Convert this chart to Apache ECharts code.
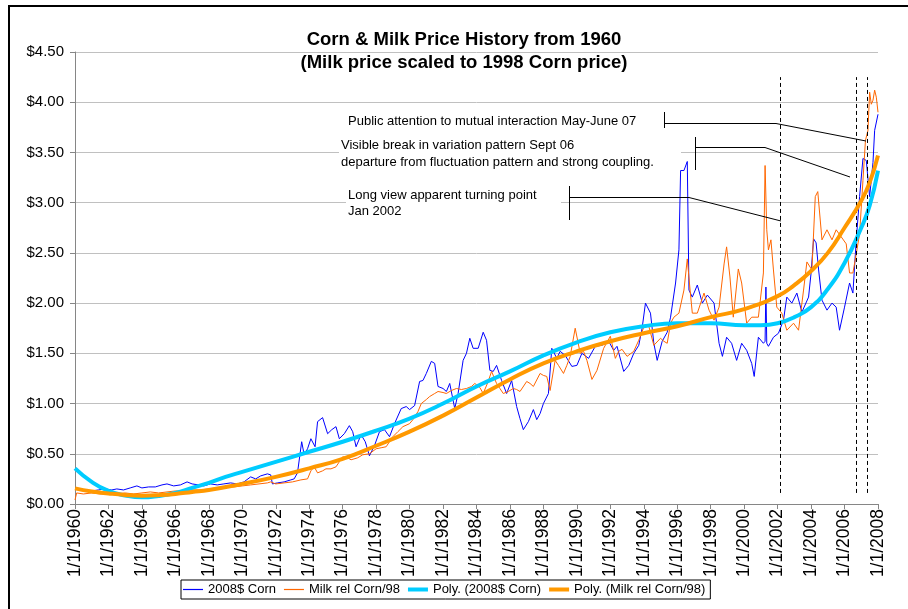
<!DOCTYPE html>
<html><head><meta charset="utf-8">
<script src="https://cdn.jsdelivr.net/npm/echarts@6/dist/echarts.min.js"></script>
<style>html,body{margin:0;padding:0;background:#fff}#c{width:908px;height:609px}</style>
</head><body><div id="c"></div>
<script>
// ---- Data (years as decimal years, values in $) ----
const cornYears = [1960.0,1960.3,1960.6,1961.0,1961.4,1961.8,1962.2,1962.5,1962.9,1963.3,1963.7,1964.0,1964.4,1964.8,1965.2,1965.5,1965.9,1966.3,1966.7,1967.0,1967.4,1967.7,1968.1,1968.5,1968.9,1969.3,1969.7,1970.1,1970.5,1970.8,1971.1,1971.5,1971.7,1971.8,1972.1,1972.5,1972.9,1973.1,1973.3,1973.55,1973.7,1973.9,1974.1,1974.35,1974.5,1974.8,1975.1,1975.35,1975.6,1975.8,1976.1,1976.4,1976.6,1976.8,1977.1,1977.35,1977.6,1977.9,1978.2,1978.5,1978.8,1979.1,1979.5,1979.8,1980.0,1980.3,1980.6,1980.8,1981.0,1981.3,1981.5,1981.7,1982.0,1982.2,1982.4,1982.7,1982.9,1983.2,1983.4,1983.6,1983.8,1984.1,1984.4,1984.6,1984.8,1985.0,1985.2,1985.5,1985.8,1986.1,1986.4,1986.6,1986.8,1987.1,1987.4,1987.6,1987.8,1988.0,1988.3,1988.5,1988.8,1989.0,1989.3,1989.7,1990.0,1990.3,1990.7,1991.1,1991.5,1991.9,1992.2,1992.4,1992.8,1993.1,1993.4,1993.7,1993.9,1994.1,1994.4,1994.6,1994.8,1995.1,1995.4,1995.6,1995.9,1996.1,1996.2,1996.4,1996.6,1996.7,1996.9,1997.2,1997.5,1997.8,1998.2,1998.5,1998.7,1998.95,1999.25,1999.55,1999.85,2000.15,2000.45,2000.6,2000.85,2001.15,2001.25,2001.3,2001.35,2001.45,2001.75,2002.05,2002.35,2002.55,2002.85,2003.15,2003.45,2003.85,2004.0,2004.15,2004.3,2004.45,2004.65,2004.95,2005.25,2005.5,2005.7,2006.0,2006.3,2006.5,2006.7,2006.9,2007.1,2007.3,2007.5,2007.7,2007.8,2008.0];
const cornValues = [0.16,0.15,0.14,0.13,0.14,0.15,0.14,0.15,0.14,0.16,0.18,0.16,0.17,0.17,0.19,0.20,0.18,0.19,0.22,0.20,0.19,0.18,0.20,0.19,0.20,0.21,0.20,0.22,0.27,0.25,0.28,0.30,0.29,0.20,0.21,0.22,0.24,0.25,0.31,0.62,0.49,0.55,0.65,0.57,0.82,0.86,0.70,0.74,0.77,0.65,0.70,0.78,0.72,0.57,0.69,0.62,0.48,0.58,0.72,0.74,0.67,0.80,0.95,0.97,0.94,0.98,1.22,1.23,1.30,1.42,1.40,1.17,1.15,1.12,1.20,0.95,1.10,1.43,1.50,1.65,1.55,1.55,1.71,1.63,1.33,1.32,1.38,1.23,1.10,1.23,0.97,0.85,0.74,0.82,0.94,0.84,0.90,1.00,1.10,1.55,1.45,1.52,1.48,1.37,1.38,1.50,1.45,1.57,1.58,1.62,1.53,1.57,1.32,1.38,1.50,1.58,1.75,2.00,1.90,1.60,1.43,1.62,1.71,1.86,2.20,2.53,3.32,3.32,3.41,2.13,2.06,2.18,2.00,2.08,2.00,1.60,1.47,1.66,1.60,1.43,1.60,1.53,1.40,1.27,1.66,1.60,1.62,2.16,1.60,1.57,1.66,1.70,1.83,2.06,2.00,2.10,1.91,2.06,2.30,2.64,2.60,2.33,2.03,1.93,2.00,1.96,1.73,1.96,2.20,2.10,2.63,3.06,3.44,3.42,3.06,3.40,3.72,3.88];

const milkYears = [1960.0,1960.1,1960.5,1961.0,1961.5,1962.0,1962.5,1963.0,1963.5,1964.0,1964.5,1965.0,1965.5,1966.0,1966.5,1967.0,1967.5,1968.0,1968.5,1969.0,1969.5,1970.0,1970.5,1971.0,1971.5,1971.7,1972.0,1972.5,1973.0,1973.5,1973.9,1974.1,1974.3,1974.5,1974.8,1975.0,1975.3,1975.6,1975.8,1976.0,1976.3,1976.5,1976.9,1977.2,1977.6,1978.0,1978.3,1978.6,1979.0,1979.3,1979.6,1980.0,1980.2,1980.5,1980.7,1981.0,1981.2,1981.5,1981.7,1982.0,1982.2,1982.5,1982.8,1983.1,1983.4,1983.7,1983.9,1984.2,1984.4,1984.7,1984.9,1985.2,1985.4,1985.6,1985.9,1986.2,1986.4,1986.6,1987.0,1987.2,1987.4,1987.8,1988.0,1988.2,1988.4,1988.7,1988.9,1989.2,1989.4,1989.6,1989.9,1990.2,1990.4,1990.6,1990.9,1991.2,1991.6,1992.0,1992.3,1992.5,1992.7,1993.0,1993.4,1993.7,1994.0,1994.3,1994.6,1995.0,1995.2,1995.4,1995.6,1995.8,1996.1,1996.4,1996.6,1996.75,1996.9,1997.2,1997.6,1997.9,1998.2,1998.5,1998.8,1998.95,1999.15,1999.35,1999.65,1999.85,2000.15,2000.45,2000.85,2001.15,2001.25,2001.35,2001.45,2001.6,2001.75,2001.95,2002.25,2002.55,2002.95,2003.25,2003.55,2003.75,2004.05,2004.25,2004.4,2004.65,2004.95,2005.25,2005.5,2005.8,2006.1,2006.3,2006.5,2006.7,2006.9,2007.1,2007.25,2007.4,2007.5,2007.6,2007.7,2007.8,2007.9,2008.0];
const milkValues = [0.04,0.11,0.10,0.11,0.10,0.10,0.10,0.11,0.10,0.11,0.12,0.11,0.12,0.13,0.13,0.14,0.14,0.15,0.16,0.17,0.17,0.18,0.19,0.20,0.21,0.22,0.20,0.21,0.22,0.24,0.25,0.33,0.37,0.31,0.33,0.35,0.35,0.37,0.42,0.47,0.46,0.44,0.46,0.49,0.50,0.55,0.56,0.57,0.67,0.72,0.77,0.80,0.84,0.92,1.00,1.04,1.07,1.10,1.12,1.11,1.10,1.13,1.15,1.14,1.15,1.17,1.20,1.16,1.10,1.22,1.32,1.20,1.15,1.10,1.12,1.15,1.14,1.12,1.22,1.20,1.17,1.30,1.28,1.27,1.13,1.43,1.38,1.30,1.38,1.47,1.75,1.50,1.52,1.43,1.24,1.33,1.55,1.67,1.45,1.52,1.54,1.47,1.52,1.63,1.76,1.77,1.58,1.65,1.62,1.60,1.80,1.86,1.90,2.13,2.44,2.16,1.90,1.90,2.10,1.93,1.83,1.96,2.39,2.56,2.26,1.86,2.34,2.20,1.80,1.86,1.86,2.30,3.37,2.73,2.53,2.63,2.33,1.96,1.90,1.73,1.80,1.73,2.13,2.41,2.33,3.06,3.11,2.63,2.73,2.63,2.73,2.66,2.59,2.30,2.30,2.49,2.69,3.22,3.62,3.72,4.10,3.98,4.02,4.12,4.05,3.90];

const cornTrendYears = [1960,1961,1962,1963,1964,1965,1966,1967,1968,1969,1970,1972,1974,1976,1978,1980,1982,1984,1986,1988,1990,1992,1994,1996,1998,2000,2001,2002,2003,2004,2005,2006,2007,2007.5,2008];
const cornTrendValues = [0.355,0.22,0.13,0.085,0.066,0.08,0.11,0.16,0.21,0.27,0.32,0.42,0.52,0.62,0.73,0.85,1.00,1.17,1.32,1.48,1.61,1.71,1.77,1.80,1.80,1.78,1.78,1.80,1.86,1.96,2.14,2.40,2.75,2.97,3.32];

const milkTrendYears = [1960,1961,1962,1963,1964,1965,1966,1967,1968,1970,1972,1974,1976,1978,1980,1982,1984,1986,1988,1990,1992,1994,1996,1998,2000,2002,2003,2004,2005,2006,2007,2007.5,2008];
const milkTrendValues = [0.156,0.125,0.105,0.09,0.083,0.088,0.10,0.12,0.14,0.20,0.27,0.355,0.45,0.58,0.72,0.88,1.06,1.24,1.40,1.52,1.62,1.70,1.77,1.86,1.94,2.07,2.18,2.32,2.50,2.75,3.02,3.20,3.47];

const markerYears = [2002.14, 2006.67, 2007.36];
const seriesNames = ['2008$ Corn','Milk rel Corn/98','Poly. (2008$ Corn)','Poly. (Milk rel Corn/98)'];
const seriesColors = ['#0000ff', '#ff6600', '#00ccff', '#ff9900'];
const titleLines = ['Corn & Milk Price History from 1960','(Milk price scaled to 1998 Corn price)'];

// ---- Chart ----
const FONT = '"Liberation Sans", Arial, sans-serif';
const zip = (xs, ys) => xs.map((x, i) => [x, ys[i]]);
const chart = echarts.init(document.getElementById('c'), null, {renderer: 'canvas'});

const THIN_ICON = 'path://M0,0h20v1.2h-20z';
const THICK_ICON = 'path://M0,0h20v4h-20z';
const blk = {stroke: '#000', lineWidth: 1, fill: null};
const legendItem = (i, icon) => ({name: seriesNames[i], icon: icon,
  itemStyle: {color: seriesColors[i], borderWidth: 0, borderColor: seriesColors[i], opacity: 1}});
const option = {
  backgroundColor: '#fff',
  animation: false,
  title: {
    text: titleLines.join('\n'),
    left: 464, top: 28, textAlign: 'center', padding: 0,
    textStyle: {fontFamily: FONT, fontSize: 18.5, fontWeight: 'bold', color: '#000', lineHeight: 23}
  },
  grid: {left: 75, top: 52, width: 803, height: 452, containLabel: false},
  legend: {
    data: [legendItem(0, THIN_ICON), legendItem(1, THIN_ICON), legendItem(2, THICK_ICON), legendItem(3, THICK_ICON)],
    left: 181, top: 580,
    itemWidth: 20, itemHeight: 4, itemGap: 8, symbolKeepAspect: true,
    itemStyle: {borderWidth: 0},
    padding: [3, 5, 3, 2],
    borderColor: '#000', borderWidth: 1, backgroundColor: '#fff',
    textStyle: {fontFamily: FONT, fontSize: 13, color: '#000'}
  },
  xAxis: {
    type: 'value', min: 1960, max: 2008, interval: 2,
    axisLine: {lineStyle: {color: '#868686'}},
    axisTick: {length: 5, lineStyle: {color: '#868686'}},
    splitLine: {show: false},
    axisLabel: {rotate: 90, margin: 5, fontFamily: FONT, fontSize: 17.5, color: '#000',
      formatter: v => '1/1/' + v}
  },
  yAxis: {
    type: 'value', min: 0, max: 4.5, interval: 0.5,
    axisLine: {show: true, lineStyle: {color: '#868686'}},
    axisTick: {show: true, length: 5, lineStyle: {color: '#868686'}},
    splitLine: {lineStyle: {color: '#c0c0c0', width: 1}},
    axisLabel: {margin: 11, fontFamily: FONT, fontSize: 15, color: '#000',
      formatter: v => '$' + v.toFixed(2)}
  },
  series: [
    {name: seriesNames[0], type: 'line', data: zip(cornYears, cornValues), symbol: 'none',
     lineStyle: {color: seriesColors[0], width: 1}, itemStyle: {color: seriesColors[0]}, z: 2,
     markLine: {symbol: 'none', silent: true, animation: false, label: {show: false},
       lineStyle: {color: '#000', type: [4, 3], width: 1},
       data: markerYears.map(y => [{coord: [y, 0.11]}, {coord: [y, 4.25]}])}},
    {name: seriesNames[1], type: 'line', data: zip(milkYears, milkValues), symbol: 'none',
     lineStyle: {color: seriesColors[1], width: 1}, itemStyle: {color: seriesColors[1]}, z: 3},
    {name: seriesNames[2], type: 'line', data: zip(cornTrendYears, cornTrendValues), symbol: 'none', smooth: 0.5,
     lineStyle: {color: seriesColors[2], width: 4}, itemStyle: {color: seriesColors[2]}, z: 4},
    {name: seriesNames[3], type: 'line', data: zip(milkTrendYears, milkTrendValues), symbol: 'none', smooth: 0.5,
     lineStyle: {color: seriesColors[3], width: 4}, itemStyle: {color: seriesColors[3]}, z: 5}
  ],
  graphic: [
    // outer chart border
    {type: 'rect', z: 10, shape: {x: 9, y: 6, width: 920, height: 640}, style: {fill: null, stroke: '#000', lineWidth: 2}},
    // annotation text backgrounds
    {type: 'rect', z: 1, shape: {x: 345, y: 112, width: 300, height: 19}, style: {fill: '#fff'}},
    {type: 'rect', z: 1, shape: {x: 339, y: 136, width: 342, height: 35}, style: {fill: '#fff'}},
    {type: 'rect', z: 1, shape: {x: 346, y: 186, width: 215, height: 33}, style: {fill: '#fff'}},
    // annotation texts
    {type: 'text', z: 20, style: {text: 'Public attention to mutual interaction May-June 07', x: 348, y: 121, font: '13px ' + FONT, fill: '#000', verticalAlign: 'middle'}},
    {type: 'text', z: 20, style: {text: 'Visible break in variation pattern Sept 06', x: 341, y: 145, font: '13px ' + FONT, fill: '#000', verticalAlign: 'middle'}},
    {type: 'text', z: 20, style: {text: 'departure from fluctuation pattern and strong coupling.', x: 341, y: 162, font: '13px ' + FONT, fill: '#000', verticalAlign: 'middle'}},
    {type: 'text', z: 20, style: {text: 'Long view apparent turning point', x: 348, y: 195, font: '13px ' + FONT, fill: '#000', verticalAlign: 'middle'}},
    {type: 'text', z: 20, style: {text: 'Jan 2002', x: 348, y: 211, font: '13px ' + FONT, fill: '#000', verticalAlign: 'middle'}},
    // annotation brackets
    {type: 'line', z: 20, shape: {x1: 664.5, y1: 112, x2: 664.5, y2: 128}, style: blk},
    {type: 'polyline', z: 20, shape: {points: [[664, 123.5], [776, 123.5], [866, 141]]}, style: blk},
    {type: 'line', z: 20, shape: {x1: 695.5, y1: 137, x2: 695.5, y2: 170}, style: blk},
    {type: 'polyline', z: 20, shape: {points: [[695, 147.5], [765, 147.5], [850, 177]]}, style: blk},
    {type: 'line', z: 20, shape: {x1: 569.5, y1: 186, x2: 569.5, y2: 220}, style: blk},
    {type: 'polyline', z: 20, shape: {points: [[569, 197.5], [689, 197.5], [781, 221]]}, style: blk}
  ]
};
chart.setOption(option);
</script>
</body></html>
